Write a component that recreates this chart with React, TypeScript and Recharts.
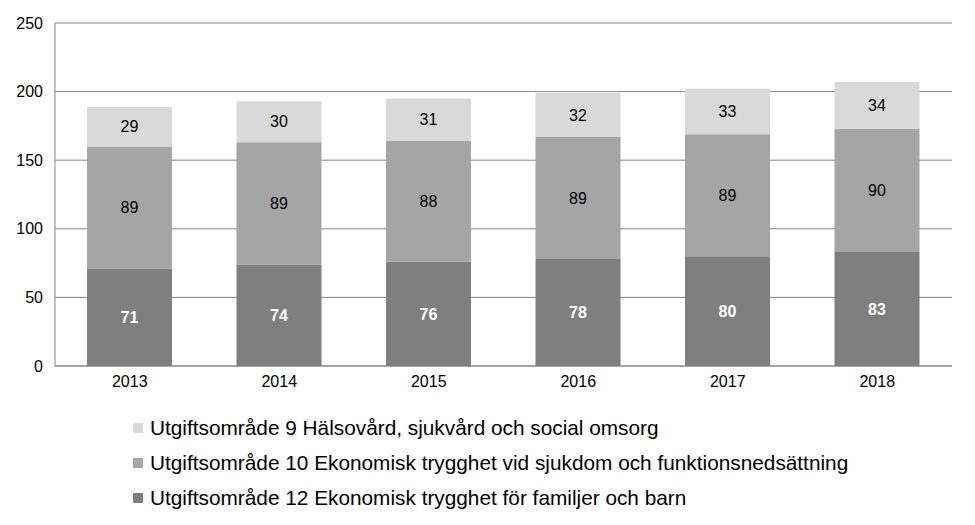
import React from 'react';
import { BarChart, Bar, XAxis, YAxis, CartesianGrid, LabelList } from 'recharts';

const years = ['2013', '2014', '2015', '2016', '2017', '2018'];
const uo12 = [71, 74, 76, 78, 80, 83];
const uo10 = [89, 89, 88, 89, 89, 90];
const uo9 = [29, 30, 31, 32, 33, 34];
const yTicks = [0, 50, 100, 150, 200, 250];

const seriesNames = {
  uo9: 'Utgiftsområde 9 Hälsovård, sjukvård och social omsorg',
  uo10: 'Utgiftsområde 10 Ekonomisk trygghet vid sjukdom och funktionsnedsättning',
  uo12: 'Utgiftsområde 12 Ekonomisk trygghet för familjer och barn',
};

const colors = { uo12: '#7f7f7f', uo10: '#a5a5a5', uo9: '#d9d9d9' };

const data = years.map((year, i) => ({ year, uo12: uo12[i], uo10: uo10[i], uo9: uo9[i] }));

const font = '"Liberation Sans", Arial, sans-serif';

export default function App() {
  const legendRows = ['uo9', 'uo10', 'uo12'] as const;
  return (
    <div style={{ position: 'absolute', left: 0, top: 0, width: 975, height: 525, background: '#fff', fontFamily: font }}>
      <BarChart
        width={975}
        height={395}
        data={data}
        margin={{ top: 23, right: 23, left: 0, bottom: 0 }}
      >
        <CartesianGrid vertical={false} stroke="#868686" strokeWidth={1} />
        <XAxis
          dataKey="year"
          height={29}
          tickLine={false}
          axisLine={{ stroke: '#868686' }}
          tick={{ fill: '#000', fontSize: 16, fontFamily: font }}
          tickMargin={4}
        />
        <YAxis
          width={55}
          domain={[0, 250]}
          ticks={yTicks}
          tickLine={false}
          axisLine={{ stroke: '#868686' }}
          tick={{ fill: '#000', fontSize: 16, fontFamily: font }}
          tickMargin={6}
        />
        <Bar dataKey="uo12" stackId="a" fill={colors.uo12} barSize={85} isAnimationActive={false}>
          <LabelList dataKey="uo12" position="center" fill="#fff" fontSize={16} fontWeight="bold" fontFamily={font} />
        </Bar>
        <Bar dataKey="uo10" stackId="a" fill={colors.uo10} barSize={85} isAnimationActive={false}>
          <LabelList dataKey="uo10" position="center" fill="#000" fontSize={16} fontFamily={font} />
        </Bar>
        <Bar dataKey="uo9" stackId="a" fill={colors.uo9} barSize={85} isAnimationActive={false}>
          <LabelList dataKey="uo9" position="center" fill="#000" fontSize={16} fontFamily={font} />
        </Bar>
      </BarChart>
      {legendRows.map((key, i) => (
        <div
          key={key}
          style={{
            position: 'absolute',
            left: 133,
            top: 428 + i * 35 - 13,
            height: 26,
            display: 'flex',
            alignItems: 'center',
            fontSize: 20.8,
            color: '#000',
            whiteSpace: 'nowrap',
          }}
        >
          <span style={{ display: 'inline-block', width: 10, height: 10, background: colors[key], marginRight: 7 }} />
          <span>{seriesNames[key]}</span>
        </div>
      ))}
    </div>
  );
}
